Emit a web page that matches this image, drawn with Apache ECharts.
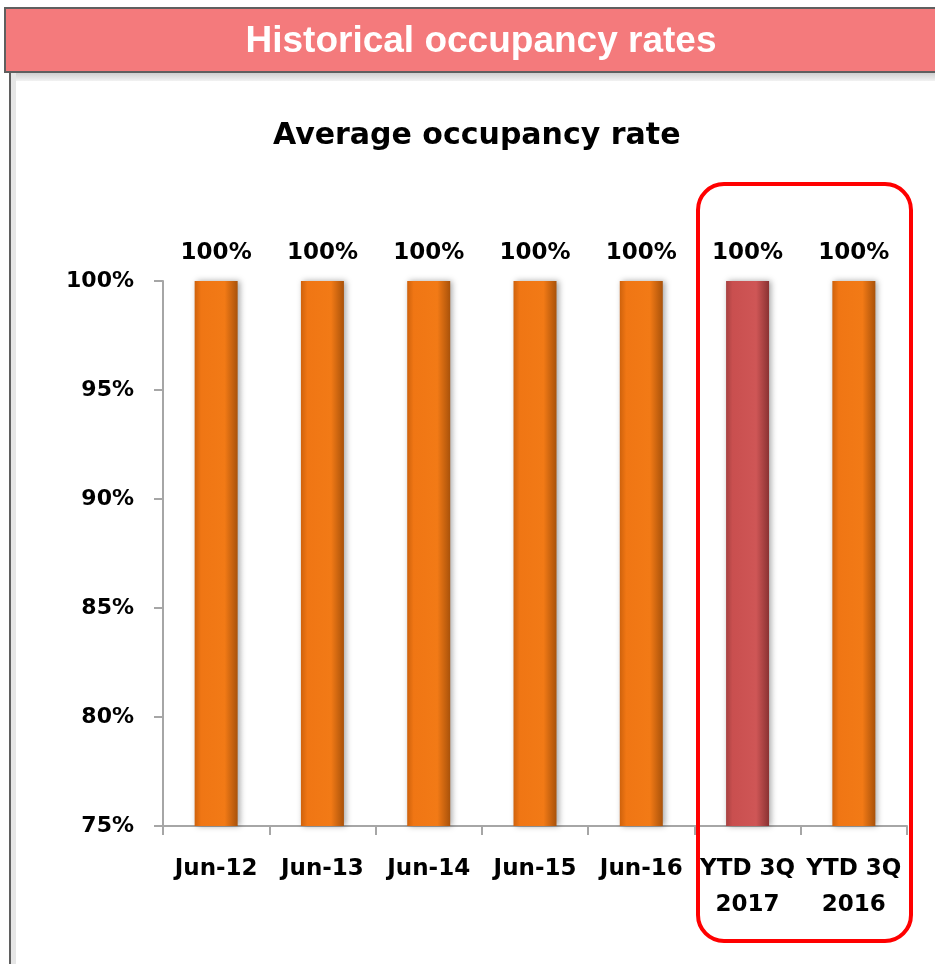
<!DOCTYPE html>
<html>
<head>
<meta charset="utf-8">
<script src="https://cdn.jsdelivr.net/npm/echarts@6/dist/echarts.min.js"></script>
<style>
  html, body { margin: 0; padding: 0; background: #fff; }
  #chart { width: 935px; height: 964px; }
</style>
</head>
<body>
<div id="chart"></div>
<script>
const categories = ['Jun-12', 'Jun-13', 'Jun-14', 'Jun-15', 'Jun-16', 'YTD 3Q\n2017', 'YTD 3Q\n2016']
const occupancy = [100, 100, 100, 100, 100, 100, 100]
const highlighted = [false, false, false, false, false, true, false]
const yTicks = { min: 75, max: 100, step: 5 }

const labelFont = 'DejaVu Sans'

// cylinder-ish look: darker edges, lighter middle
const barFill = (hot) => ({
  type: 'linear', x: 0, y: 0, x2: 1, y2: 0,
  colorStops: hot
    ? [
        { offset: 0, color: '#A84242' },
        { offset: 0.15, color: '#C94F4F' },
        { offset: 0.7, color: '#CF5656' },
        { offset: 1, color: '#8A3232' },
      ]
    : [
        { offset: 0, color: '#CF620C' },
        { offset: 0.15, color: '#F07614' },
        { offset: 0.7, color: '#F27A16' },
        { offset: 1, color: '#A9520A' },
      ],
})

const chartInstance = echarts.init(document.getElementById('chart'))

const option = {
  backgroundColor: '#fff',
  animation: false,
  title: {
    text: 'Average occupancy rate',
    left: 268,
    top: 116,
    textStyle: {
      fontFamily: labelFont,
      fontWeight: 'bold',
      fontSize: 30,
      color: '#000',
    },
  },
  grid: {
    left: 163,
    right: 28,
    top: 281,
    bottom: 138,
  },
  xAxis: {
    type: 'category',
    data: categories,
    axisLine: { lineStyle: { color: '#A6A6A6', width: 2 } },
    axisTick: { show: true, length: 9, lineStyle: { color: '#A6A6A6', width: 2 } },
    axisLabel: {
      interval: 0,
      margin: 25,
      fontFamily: labelFont,
      fontWeight: 'bold',
      fontSize: 23,
      lineHeight: 36,
      color: '#000',
    },
  },
  yAxis: {
    type: 'value',
    min: yTicks.min,
    max: yTicks.max,
    interval: yTicks.step,
    axisLine: { show: true, lineStyle: { color: '#A6A6A6', width: 2 } },
    axisTick: { show: true, length: 9, lineStyle: { color: '#A6A6A6', width: 2 } },
    splitLine: { show: false },
    axisLabel: {
      margin: 29,
      formatter: '{value}%',
      fontFamily: labelFont,
      fontWeight: 'bold',
      fontSize: 22,
      color: '#000',
    },
  },
  series: [
    {
      type: 'bar',
      barWidth: 43,
      data: occupancy.map((v, i) => ({
        value: v,
        itemStyle: {
          color: barFill(highlighted[i]),
          shadowColor: 'rgba(0,0,0,0.35)',
          shadowBlur: 6,
          shadowOffsetX: 2,
        },
      })),
      label: {
        show: true,
        position: 'top',
        distance: 16,
        formatter: '{c}%',
        fontFamily: labelFont,
        fontWeight: 'bold',
        fontSize: 23,
        color: '#000',
      },
    },
  ],
  graphic: [
    // header band
    {
      type: 'rect',
      z: 100,
      shape: { x: 5, y: 8, width: 940, height: 64 },
      style: { fill: '#F47A7C', stroke: '#5F5F5F', lineWidth: 2 },
    },
    {
      type: 'text',
      z: 101,
      x: 481,
      y: 42,
      style: {
        text: 'Historical occupancy rates',
        fontFamily: 'Liberation Sans',
        fontWeight: 'bold',
        fontSize: 37,
        fill: '#fff',
        align: 'center',
        verticalAlign: 'middle',
      },
    },
    // soft shadow under header and beside left edge
    {
      type: 'rect',
      z: 99,
      shape: { x: 10, y: 73, width: 930, height: 8 },
      style: {
        fill: {
          type: 'linear', x: 0, y: 0, x2: 0, y2: 1,
          colorStops: [{ offset: 0, color: '#CFCFCF' }, { offset: 1, color: '#F2F2F2' }],
        },
      },
    },
    {
      type: 'rect',
      z: 99,
      shape: { x: 11, y: 73, width: 5, height: 900 },
      style: { fill: '#E6E6E6' },
    },
    {
      type: 'line',
      z: 100,
      shape: { x1: 10, y1: 72, x2: 10, y2: 964 },
      style: { stroke: '#5F5F5F', lineWidth: 2 },
    },
    // highlight box around YTD bars
    {
      type: 'rect',
      z: 100,
      shape: { x: 698, y: 184, width: 213, height: 757, r: 26 },
      style: { fill: 'none', stroke: '#FF0000', lineWidth: 4 },
    },
  ],
}

chartInstance.setOption(option)
window.addEventListener('resize', () => chartInstance.resize())
</script>
</body>
</html>
